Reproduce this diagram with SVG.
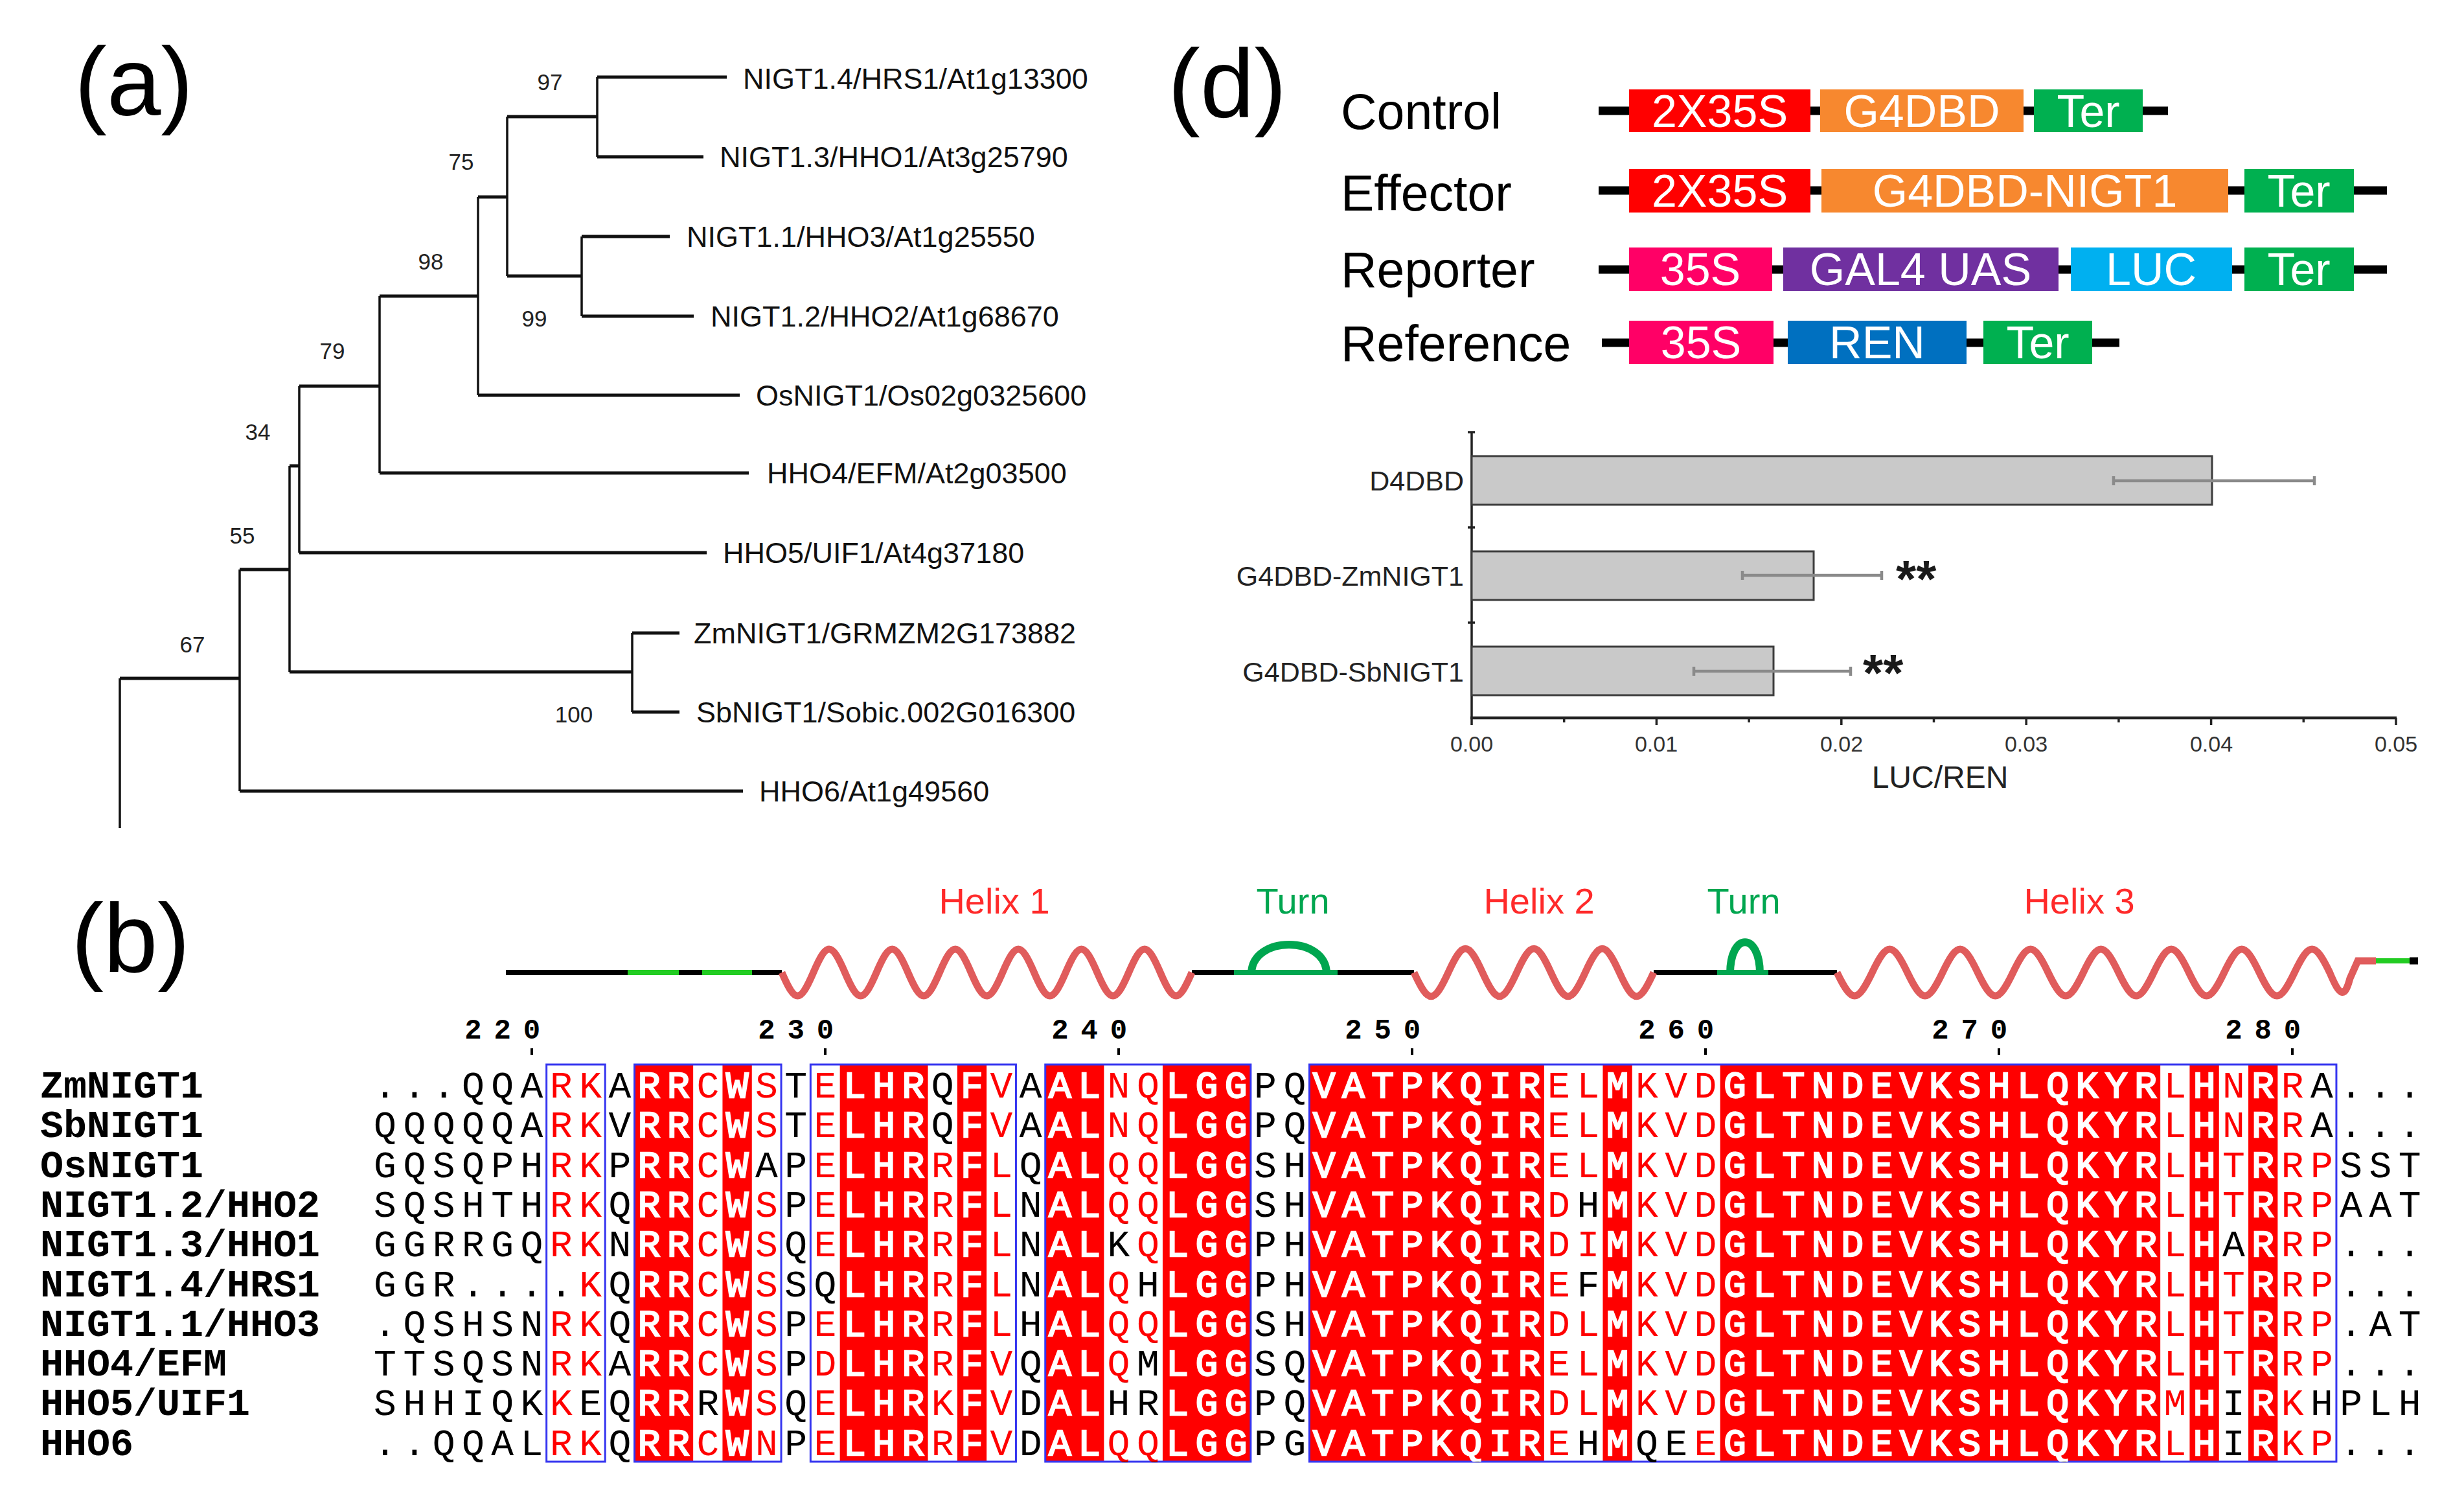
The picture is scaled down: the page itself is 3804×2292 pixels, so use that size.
<svg xmlns="http://www.w3.org/2000/svg" width="3804" height="2292" viewBox="0 0 3804 2292">
<style>
text{font-family:'Liberation Sans',Arial,sans-serif}
.plab{font-size:150px;fill:#000}
.leaf{font-size:45px;fill:#111}
.bs{font-size:35px;fill:#222;text-anchor:middle}
.h{stroke:#111;stroke-width:5;fill:none}
.v{stroke:#111;stroke-width:3.5;fill:none}
.cn{font-size:77px;fill:#000}
.bx{font-size:70px;fill:#fff;text-anchor:middle}
.bb{stroke:#000;stroke-width:13}
.cat{font-size:43px;fill:#222;text-anchor:end}
.tk{font-size:34px;fill:#333;text-anchor:middle}
.ax{stroke:#222;stroke-width:3.5}
.bar{fill:#c9c9c9;stroke:#3c3c3c;stroke-width:3}
.err{stroke:#8a8a8a;stroke-width:4.5;fill:none}
.st{font-size:80px;font-weight:bold;fill:#1a1a1a}
.hl{font-size:56px;fill:#ff2a2a;text-anchor:middle}
.tn{font-size:56px;fill:#00a650;text-anchor:middle}
.coil{fill:none;stroke:#e05c5c;stroke-width:11}
.bk{stroke:#000;stroke-width:8}
.gl{stroke:#22cc22;stroke-width:8}
.ga{stroke:#00a650;stroke-width:8}
.arc{fill:none;stroke:#00a650;stroke-width:12}
.sq{font-family:'Liberation Mono','DejaVu Sans Mono',monospace;font-size:58px;letter-spacing:10.495px;fill:url(#seqfill);stroke:url(#seqstroke);stroke-width:2.4px}
.nm{font-family:'Liberation Mono','DejaVu Sans Mono',monospace;font-size:60px;font-weight:bold;fill:#000}
.num{font-family:'Liberation Mono','DejaVu Sans Mono',monospace;font-size:44px;font-weight:bold;fill:#000;text-anchor:middle}
.rb{fill:#ff0000}
.wc{fill:#fff}
.kc{fill:#000}
.box{fill:none;stroke:#3535f0;stroke-width:3}
</style>
<defs>
<pattern id="seqfill" patternUnits="userSpaceOnUse" x="0" y="0" width="3804" height="2292">
<rect width="3804" height="2292" fill="#000"/>
<g fill="#ff0000">
<rect x="843.65" y="1643" width="90.6" height="613"/>
<rect x="1070.15" y="1643" width="45.3" height="613"/>
<rect x="1160.75" y="1643" width="45.3" height="613"/>
<rect x="1251.35" y="1643" width="45.3" height="613"/>
<rect x="1432.55" y="1643" width="45.3" height="613"/>
<rect x="1523.15" y="1643" width="45.3" height="613"/>
<rect x="1704.35" y="1643" width="90.6" height="613"/>
<rect x="2383.85" y="1643" width="90.6" height="613"/>
<rect x="2519.75" y="1643" width="135.9" height="613"/>
<rect x="3335.15" y="1643" width="45.3" height="613"/>
<rect x="3425.75" y="1643" width="45.3" height="613"/>
<rect x="3516.35" y="1643" width="90.6" height="613"/>
</g>
<g fill="#000">
<rect x="843.65" y="1950.5" width="45.3" height="63"/>
<rect x="888.95" y="2134.4" width="45.3" height="63"/>
<rect x="1070.15" y="2134.4" width="45.3" height="63"/>
<rect x="1160.75" y="1766.6" width="45.3" height="63"/>
<rect x="1251.35" y="1950.5" width="45.3" height="63"/>
<rect x="1432.55" y="1644" width="45.3" height="124.3"/>
<rect x="1704.35" y="1889.2" width="45.3" height="63"/>
<rect x="1704.35" y="2134.4" width="45.3" height="63"/>
<rect x="1749.65" y="1950.5" width="45.3" height="63"/>
<rect x="1749.65" y="2073.1" width="45.3" height="124.3"/>
<rect x="2429.15" y="1827.9" width="45.3" height="63"/>
<rect x="2429.15" y="1950.5" width="45.3" height="63"/>
<rect x="2429.15" y="2195.7" width="45.3" height="63"/>
<rect x="2519.75" y="2195.7" width="90.6" height="63"/>
<rect x="3425.75" y="1889.2" width="45.3" height="63"/>
<rect x="3425.75" y="2134.4" width="45.3" height="124.3"/>
<rect x="3561.65" y="1644" width="45.3" height="124.3"/>
<rect x="3561.65" y="2134.4" width="45.3" height="63"/>
</g>
<g fill="#fff">
<rect x="979.55" y="1643" width="90.6" height="613"/>
<rect x="1115.45" y="1643" width="45.3" height="613"/>
<rect x="1296.65" y="1643" width="135.9" height="613"/>
<rect x="1477.85" y="1643" width="45.3" height="613"/>
<rect x="1613.75" y="1643" width="90.6" height="613"/>
<rect x="1794.95" y="1643" width="135.9" height="613"/>
<rect x="2021.45" y="1643" width="362.4" height="613"/>
<rect x="2474.45" y="1643" width="45.3" height="613"/>
<rect x="2655.65" y="1643" width="679.5" height="613"/>
<rect x="3380.45" y="1643" width="45.3" height="613"/>
<rect x="3471.05" y="1643" width="45.3" height="613"/>
</g>
</pattern>
<pattern id="seqstroke" patternUnits="userSpaceOnUse" x="0" y="0" width="3804" height="2292">
<g fill="#fff">
<rect x="979.55" y="1643" width="90.6" height="613"/>
<rect x="1115.45" y="1643" width="45.3" height="613"/>
<rect x="1296.65" y="1643" width="135.9" height="613"/>
<rect x="1477.85" y="1643" width="45.3" height="613"/>
<rect x="1613.75" y="1643" width="90.6" height="613"/>
<rect x="1794.95" y="1643" width="135.9" height="613"/>
<rect x="2021.45" y="1643" width="362.4" height="613"/>
<rect x="2474.45" y="1643" width="45.3" height="613"/>
<rect x="2655.65" y="1643" width="679.5" height="613"/>
<rect x="3380.45" y="1643" width="45.3" height="613"/>
<rect x="3471.05" y="1643" width="45.3" height="613"/>
</g>
</pattern>
</defs>
<rect width="3804" height="2292" fill="#fff"/>

<!-- panel labels -->
<text class="plab" x="115" y="178">(a)</text>
<text class="plab" x="110" y="1500">(b)</text>
<text class="plab" x="1803" y="181">(d)</text>

<!-- ===== (a) tree ===== -->
<g id="tree-branches">
<path class="h" d="M922 119H1122M922 242H1086M783 180H922M898 365H1034M898 488H1071M783 426H898M738 304H783M738 610H1142M586 457H738M586 730H1156M462 596H586M462 853H1091M447 719H462M447 1037H976M976 977H1049M976 1099H1049M370 879H447M370 1221H1147M185 1047H370"/>
<path class="v" d="M922 119V242M898 365V488M783 180V426M738 304V610M586 457V730M462 596V853M447 719V1037M976 977V1099M370 879V1221M185 1047V1278"/>
</g>
<g id="tree-support">
<text class="bs" x="849" y="139">97</text>
<text class="bs" x="712" y="262">75</text>
<text class="bs" x="665" y="416">98</text>
<text class="bs" x="825" y="504">99</text>
<text class="bs" x="513" y="554">79</text>
<text class="bs" x="398" y="679">34</text>
<text class="bs" x="374" y="839">55</text>
<text class="bs" x="886" y="1115">100</text>
<text class="bs" x="297" y="1007">67</text>
</g>
<g id="leaf-nigt14"><text class="leaf" x="1147" y="137">NIGT1.4/HRS1/At1g13300</text></g>
<g id="leaf-nigt13"><text class="leaf" x="1111" y="258">NIGT1.3/HHO1/At3g25790</text></g>
<g id="leaf-nigt11"><text class="leaf" x="1060" y="381">NIGT1.1/HHO3/At1g25550</text></g>
<g id="leaf-nigt12"><text class="leaf" x="1097" y="504">NIGT1.2/HHO2/At1g68670</text></g>
<g id="leaf-os"><text class="leaf" x="1167" y="626">OsNIGT1/Os02g0325600</text></g>
<g id="leaf-hho4"><text class="leaf" x="1184" y="746">HHO4/EFM/At2g03500</text></g>
<g id="leaf-hho5"><text class="leaf" x="1116" y="869">HHO5/UIF1/At4g37180</text></g>
<g id="leaf-zm"><text class="leaf" x="1071" y="993">ZmNIGT1/GRMZM2G173882</text></g>
<g id="leaf-sb"><text class="leaf" x="1075" y="1115">SbNIGT1/Sobic.002G016300</text></g>
<g id="leaf-hho6"><text class="leaf" x="1172" y="1237">HHO6/At1g49560</text></g>

<!-- ===== (d) constructs ===== -->
<g id="construct-control">
<text class="cn" x="2070" y="199">Control</text>
<line class="bb" x1="2468" y1="171" x2="3347" y2="171"/>
<rect x="2515" y="138" width="280" height="66" fill="#ff0000"/>
<rect x="2810" y="138" width="314" height="66" fill="#f7882f"/>
<rect x="3140" y="138" width="168" height="66" fill="#00b050"/>
<text class="bx" x="2655" y="196">2X35S</text>
<text class="bx" x="2967" y="196">G4DBD</text>
<text class="bx" x="3224" y="196">Ter</text>
</g>
<g id="construct-effector">
<text class="cn" x="2070" y="325">Effector</text>
<line class="bb" x1="2468" y1="294" x2="3685" y2="294"/>
<rect x="2515" y="261" width="280" height="67" fill="#ff0000"/>
<rect x="2812" y="261" width="628" height="67" fill="#f7882f"/>
<rect x="3465" y="261" width="169" height="67" fill="#00b050"/>
<text class="bx" x="2655" y="319">2X35S</text>
<text class="bx" x="3126" y="319">G4DBD-NIGT1</text>
<text class="bx" x="3549" y="319">Ter</text>
</g>
<g id="construct-reporter">
<text class="cn" x="2070" y="443">Reporter</text>
<line class="bb" x1="2468" y1="416" x2="3685" y2="416"/>
<rect x="2515" y="382" width="221" height="67" fill="#ff0066"/>
<rect x="2753" y="382" width="425" height="67" fill="#7030a0"/>
<rect x="3197" y="382" width="249" height="67" fill="#00b0f0"/>
<rect x="3465" y="382" width="169" height="67" fill="#00b050"/>
<text class="bx" x="2625" y="440">35S</text>
<text class="bx" x="2965" y="440">GAL4 UAS</text>
<text class="bx" x="3321" y="440">LUC</text>
<text class="bx" x="3549" y="440">Ter</text>
</g>
<g id="construct-reference">
<text class="cn" x="2070" y="557">Reference</text>
<line class="bb" x1="2473" y1="529" x2="3272" y2="529"/>
<rect x="2515" y="495" width="223" height="67" fill="#ff0066"/>
<rect x="2760" y="495" width="276" height="67" fill="#0070c0"/>
<rect x="3062" y="495" width="168" height="67" fill="#00b050"/>
<text class="bx" x="2626" y="553">35S</text>
<text class="bx" x="2898" y="553">REN</text>
<text class="bx" x="3146" y="553">Ter</text>
</g>

<!-- ===== (d) bar chart ===== -->
<g id="chart-axes">
<line class="ax" x1="2272" y1="667" x2="2272" y2="1108"/>
<line class="ax" x1="2266" y1="667" x2="2277" y2="667"/>
<line class="ax" x1="2266" y1="814" x2="2277" y2="814"/>
<line class="ax" x1="2266" y1="961" x2="2277" y2="961"/>
<line x1="2270" y1="1108" x2="3700" y2="1108" stroke="#222" stroke-width="4.5"/>
<path class="ax" d="M2272 1108V1119M2557.4 1108V1119M2842.8 1108V1119M3128.2 1108V1119M3413.6 1108V1119M3699 1108V1119M2414.7 1108V1115M2700.1 1108V1115M2985.5 1108V1115M3270.9 1108V1115M3556.3 1108V1115"/>
<text class="tk" x="2272" y="1160">0.00</text>
<text class="tk" x="2557" y="1160">0.01</text>
<text class="tk" x="2843" y="1160">0.02</text>
<text class="tk" x="3128" y="1160">0.03</text>
<text class="tk" x="3414" y="1160">0.04</text>
<text class="tk" x="3699" y="1160">0.05</text>
<text x="2995" y="1216" font-size="48" fill="#222" text-anchor="middle">LUC/REN</text>
</g>
<g id="bar-d4dbd">
<text class="cat" x="2260" y="757">D4DBD</text>
<rect class="bar" x="2272" y="704" width="1143" height="75"/>
<path class="err" d="M3263 742H3573M3263 735V749M3573 735V749"/>
</g>
<g id="bar-zm">
<text class="cat" x="2260" y="904">G4DBD-ZmNIGT1</text>
<rect class="bar" x="2272" y="851" width="528" height="75"/>
<path class="err" d="M2690 888H2905M2690 881V895M2905 881V895"/>
<text class="st" x="2927" y="921">**</text>
</g>
<g id="bar-sb">
<text class="cat" x="2260" y="1052">G4DBD-SbNIGT1</text>
<rect class="bar" x="2272" y="998" width="466" height="75"/>
<path class="err" d="M2615 1036H2857M2615 1029V1043M2857 1029V1043"/>
<text class="st" x="2876" y="1066">**</text>
</g>

<!-- ===== (b) secondary structure ===== -->
<g id="ss-labels">
<text class="hl" x="1535" y="1410">Helix 1</text>
<text class="tn" x="1996" y="1410">Turn</text>
<text class="hl" x="2376" y="1410">Helix 2</text>
<text class="tn" x="2692" y="1410">Turn</text>
<text class="hl" x="3210" y="1410">Helix 3</text>
</g>
<g id="ss-track">
<path class="bk" d="M781 1501H969M1048 1501H1084M1161 1501H1207M1840 1501H1905M2065 1501H2183M2553 1501H2651M2730 1501H2836"/>
<path class="gl" d="M969 1501H1048M1084 1501H1161"/>
<path class="ga" d="M1905 1501H2065M2651 1501H2730"/>
<path class="arc" d="M1932 1503C1932 1443 2048 1443 2048 1503"/>
<path class="arc" d="M2671 1503C2671 1438 2717 1438 2717 1503"/>
<path class="coil" d="M1207,1501 C1227.7,1549 1235.0,1549 1255.7,1501 S1283.7,1453 1304.4,1501 S1332.4,1549 1353.1,1501 S1381.1,1453 1401.8,1501 S1429.8,1549 1450.5,1501 S1478.5,1453 1499.1,1501 S1527.1,1549 1547.8,1501 S1575.8,1453 1596.5,1501 S1624.5,1549 1645.2,1501 S1673.2,1453 1693.9,1501 S1721.9,1549 1742.6,1501 S1770.6,1453 1791.3,1501 S1819.3,1549 1840,1501"/>
<path class="coil" d="M2183,1501 C2205.4,1550 2213.4,1550 2235.9,1501 S2266.3,1452 2288.7,1501 S2319.1,1550 2341.6,1501 S2372.0,1452 2394.4,1501 S2424.8,1550 2447.3,1501 S2477.7,1452 2500.1,1501 S2530.5,1550 2553,1501"/>
<path class="coil" d="M2836,1501 C2859.1,1549 2867.3,1549 2890.3,1501 S2921.6,1453 2944.7,1501 S2976.0,1549 2999.0,1501 S3030.3,1453 3053.3,1501 S3084.6,1549 3107.7,1501 S3139.0,1453 3162.0,1501 S3193.3,1549 3216.3,1501 S3247.6,1453 3270.7,1501 S3302.0,1549 3325.0,1501 S3356.3,1453 3379.3,1501 S3410.6,1549 3433.7,1501 S3465.0,1453 3488.0,1501 S3519.3,1549 3542.3,1501 S3573.6,1453 3596.7,1501 C3613,1540 3620,1540 3628,1510 L3640,1483 H3668"/>
<path class="gl" d="M3668 1483H3720" stroke-width="11"/>
<path d="M3720 1483H3733" stroke="#000" stroke-width="11"/>
</g>

<!-- ===== (b) alignment ===== -->
<g id="numbering">
<text class="num" x="730.4 775.7 821" y="1603">220</text>
<text class="num" x="1183.4 1228.7 1274" y="1603">230</text>
<text class="num" x="1636.4 1681.7 1727" y="1603">240</text>
<text class="num" x="2089.4 2134.7 2180" y="1603">250</text>
<text class="num" x="2542.4 2587.7 2633" y="1603">260</text>
<text class="num" x="2995.4 3040.7 3086" y="1603">270</text>
<text class="num" x="3448.4 3493.7 3539" y="1603">280</text>
<path d="M821 1618V1628M1274 1618V1628M1727 1618V1628M2180 1618V1628M2633 1618V1628M3086 1618V1628M3539 1618V1628" stroke="#000" stroke-width="4"/>
</g>
<g id="conserved-columns">
<rect class="rb" x="979.55" y="1643" width="90.6" height="613"/>
<rect class="rb" x="1115.45" y="1643" width="45.3" height="613"/>
<rect class="rb" x="1296.65" y="1643" width="135.9" height="613"/>
<rect class="rb" x="1477.85" y="1643" width="45.3" height="613"/>
<rect class="rb" x="1613.75" y="1643" width="90.6" height="613"/>
<rect class="rb" x="1794.95" y="1643" width="135.9" height="613"/>
<rect class="rb" x="2021.45" y="1643" width="362.4" height="613"/>
<rect class="rb" x="2474.45" y="1643" width="45.3" height="613"/>
<rect class="rb" x="2655.65" y="1643" width="679.5" height="613"/>
<rect class="rb" x="3380.45" y="1643" width="45.3" height="613"/>
<rect class="rb" x="3471.05" y="1643" width="45.3" height="613"/>
</g>
<g id="similarity-boxes">
<rect class="box" x="843.65" y="1643" width="90.6" height="613"/>
<rect class="box" x="979.55" y="1643" width="226.5" height="613"/>
<rect class="box" x="1251.35" y="1643" width="317.1" height="613"/>
<rect class="box" x="1613.75" y="1643" width="317.1" height="613"/>
<rect class="box" x="2021.45" y="1643" width="1585.5" height="613"/>
</g>
<g id="seq-names">
<text class="nm" x="62" y="1694">ZmNIGT1</text>
<text class="nm" x="62" y="1755.3">SbNIGT1</text>
<text class="nm" x="62" y="1816.6">OsNIGT1</text>
<text class="nm" x="62" y="1877.9">NIGT1.2/HHO2</text>
<text class="nm" x="62" y="1939.2">NIGT1.3/HHO1</text>
<text class="nm" x="62" y="2000.5">NIGT1.4/HRS1</text>
<text class="nm" x="62" y="2061.8">NIGT1.1/HHO3</text>
<text class="nm" x="62" y="2123.1">HHO4/EFM</text>
<text class="nm" x="62" y="2184.4">HHO5/UIF1</text>
<text class="nm" x="62" y="2245.7">HHO6</text>
</g>
<g id="seq-rows">
<text class="sq" x="577.1" y="1694">...QQARKARRCWSTELHRQFVAALNQLGGPQVATPKQIRELMKVDGLTNDEVKSHLQKYRLHNRRA...</text>
<text class="sq" x="577.1" y="1755.3">QQQQQARKVRRCWSTELHRQFVAALNQLGGPQVATPKQIRELMKVDGLTNDEVKSHLQKYRLHNRRA...</text>
<text class="sq" x="577.1" y="1816.6">GQSQPHRKPRRCWAPELHRRFLQALQQLGGSHVATPKQIRELMKVDGLTNDEVKSHLQKYRLHTRRPSST</text>
<text class="sq" x="577.1" y="1877.9">SQSHTHRKQRRCWSPELHRRFLNALQQLGGSHVATPKQIRDHMKVDGLTNDEVKSHLQKYRLHTRRPAAT</text>
<text class="sq" x="577.1" y="1939.2">GGRRGQRKNRRCWSQELHRRFLNALKQLGGPHVATPKQIRDIMKVDGLTNDEVKSHLQKYRLHARRP...</text>
<text class="sq" x="577.1" y="2000.5">GGR....KQRRCWSSQLHRRFLNALQHLGGPHVATPKQIREFMKVDGLTNDEVKSHLQKYRLHTRRP...</text>
<text class="sq" x="577.1" y="2061.8">.QSHSNRKQRRCWSPELHRRFLHALQQLGGSHVATPKQIRDLMKVDGLTNDEVKSHLQKYRLHTRRP.AT</text>
<text class="sq" x="577.1" y="2123.1">TTSQSNRKARRCWSPDLHRRFVQALQMLGGSQVATPKQIRELMKVDGLTNDEVKSHLQKYRLHTRRP...</text>
<text class="sq" x="577.1" y="2184.4">SHHIQKKEQRRRWSQELHRKFVDALHRLGGPQVATPKQIRDLMKVDGLTNDEVKSHLQKYRMHIRKHPLH</text>
<text class="sq" x="577.1" y="2245.7">..QQALRKQRRCWNPELHRRFVDALQQLGGPGVATPKQIREHMQEEGLTNDEVKSHLQKYRLHIRKP...</text>
</g>
</svg>
